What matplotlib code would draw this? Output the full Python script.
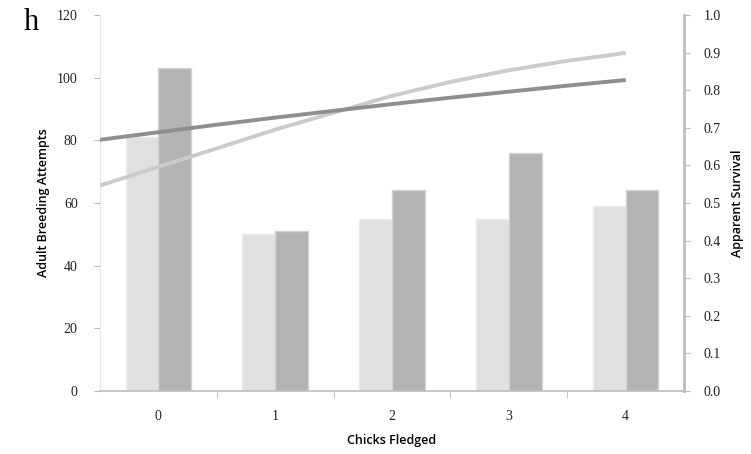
import numpy as np
import matplotlib.pyplot as plt

# --- datos ---
chicks = [0, 1, 2, 3, 4]
tick_labels = ['0', '1', '2', '3', '4']
attempts_light = [81, 50, 55, 55, 59]
attempts_dark = [103, 51, 64, 76, 64]

# curvas de supervivencia aparente
surv_x = [-0.5, 0, 0.5, 1, 1.5, 2, 2.5, 3, 3.5, 4]
surv_light = [0.546, 0.596, 0.645, 0.695, 0.740, 0.785, 0.822, 0.853, 0.878, 0.899]
surv_dark = [0.668, 0.688, 0.708, 0.727, 0.745, 0.763, 0.780, 0.796, 0.812, 0.827]

fig = plt.figure(figsize=(7.51, 4.54), dpi=100)
ax = fig.add_axes([0.133, 0.139, 0.778, 0.828])
ax2 = ax.twinx()

x = np.array(chicks)
w = 0.28
ax.bar(x - w / 2, attempts_light, w, color='#e0e0e0', edgecolor='#ececec', linewidth=1, zorder=2)
ax.bar(x + w / 2, attempts_dark, w, color='#b3b3b3', edgecolor='#d4d4d4', linewidth=1, zorder=2)

ax2.plot(surv_x, surv_light, color='#cbcbcb', lw=2.8, solid_capstyle='butt')
ax2.plot(surv_x, surv_dark, color='#8e8e8e', lw=2.8, solid_capstyle='butt')

ax.set_xlim(-0.5, 4.5)
ax.set_ylim(0, 120)
ax2.set_ylim(0, 1.0)

ax.set_yticks(range(0, 121, 20))
ax2.set_yticks(np.arange(0, 1.01, 0.1))
ax2.set_yticklabels([f'{v:.1f}' for v in np.arange(0, 1.01, 0.1)])
ax.set_xticks(x)
ax.set_xticklabels(tick_labels)
ax.set_xticks(np.arange(0.5, 4.5, 1), minor=True)

for lab in ax.get_yticklabels() + ax2.get_yticklabels() + ax.get_xticklabels():
    lab.set_fontfamily('Liberation Serif')
    lab.set_fontsize(10)
    lab.set_color('#222222')

ax.tick_params(axis='y', length=4, color='#bbbbbb', pad=12)
ax2.tick_params(axis='y', length=4, color='#bbbbbb', pad=10)
ax.tick_params(axis='x', which='major', length=0, pad=14)
ax.tick_params(axis='x', which='minor', length=5, color='#bbbbbb')

ax.spines['top'].set_visible(False)
ax2.spines['top'].set_visible(False)
ax.spines['left'].set_color('#e6e6e6')
ax2.spines['left'].set_visible(False)
ax.spines['right'].set_visible(False)
ax2.spines['right'].set_color('#bdbdbd')
ax2.spines['right'].set_linewidth(2)
ax.spines['bottom'].set_color('#bdbdbd')
ax2.spines['bottom'].set_visible(False)
ax.spines['bottom'].set_linewidth(1.2)

lab_font = dict(fontsize=9, family='Open Sans', fontweight='semibold')
ax.set_xlabel('Chicks Fledged', labelpad=8, **lab_font)
ax.set_ylabel('Adult Breeding Attempts', labelpad=5, **lab_font)
ax2.set_ylabel('Apparent Survival', labelpad=7, **lab_font)

fig.text(0.032, 0.95, 'h', fontsize=22, family='Liberation Serif', va='center')

fig.savefig('out.png', dpi=100)
